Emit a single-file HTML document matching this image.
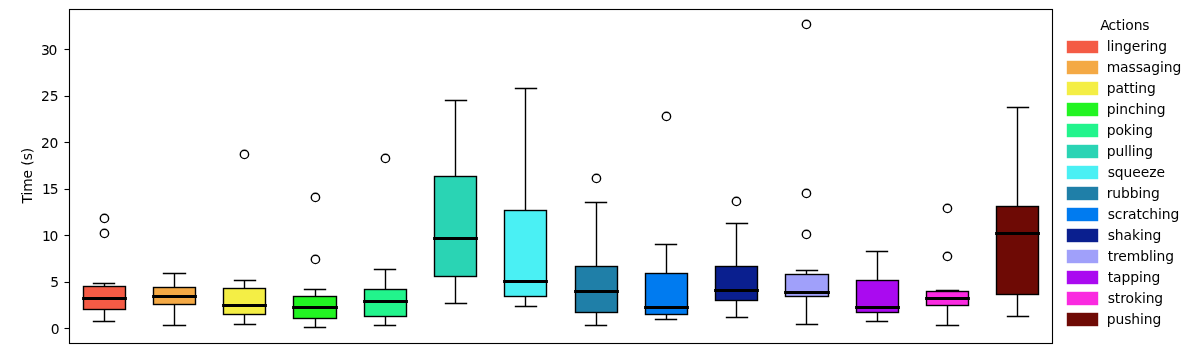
<!DOCTYPE html>
<html><head><meta charset="utf-8"><title>Actions boxplot</title>
<style>html,body{margin:0;padding:0;background:#fff;}svg{display:block;}text{font-family:"DejaVu Sans","Liberation Sans",sans-serif;font-size:13.89px;fill:#000;}.lg text{letter-spacing:-0.08px;}</style></head><body>
<svg width="1200" height="359" viewBox="0 0 1200 359">
<rect width="1200" height="359" fill="#fff"/>
<g stroke="#000" stroke-width="1.39" fill="none" stroke-linecap="square">
<rect x="83.5" y="286.5" width="42.0" height="23.0" fill="#F45B45"/>
<path d="M104.5 286.5V283.5M104.5 309.5V321.5" stroke-linecap="butt"/>
<path d="M93.5 283.5H114.5M93.5 321.5H114.5"/>
<path d="M83.5 298.5H125.5" stroke-width="2.78"/>
<circle cx="104.45" cy="218.42" r="4.17"/>
<circle cx="104.45" cy="233.42" r="4.17"/>
</g>
<g stroke="#000" stroke-width="1.39" fill="none" stroke-linecap="square">
<rect x="153.5" y="287.5" width="42.0" height="17.0" fill="#F4A945"/>
<path d="M174.5 287.5V273.5M174.5 304.5V325.5" stroke-linecap="butt"/>
<path d="M163.5 273.5H185.5M163.5 325.5H185.5"/>
<path d="M153.5 296.5H195.5" stroke-width="2.78"/>
</g>
<g stroke="#000" stroke-width="1.39" fill="none" stroke-linecap="square">
<rect x="223.5" y="288.5" width="42.0" height="26.0" fill="#F4EE45"/>
<path d="M244.5 288.5V280.5M244.5 314.5V324.5" stroke-linecap="butt"/>
<path d="M234.5 280.5H255.5M234.5 324.5H255.5"/>
<path d="M223.5 305.5H265.5" stroke-width="2.78"/>
<circle cx="244.45" cy="154.42" r="4.17"/>
</g>
<g stroke="#000" stroke-width="1.39" fill="none" stroke-linecap="square">
<rect x="293.5" y="296.5" width="43.0" height="22.0" fill="#22F422"/>
<path d="M315.5 296.5V289.5M315.5 318.5V327.5" stroke-linecap="butt"/>
<path d="M304.5 289.5H325.5M304.5 327.5H325.5"/>
<path d="M293.5 307.5H336.5" stroke-width="2.78"/>
<circle cx="315.45" cy="197.42" r="4.17"/>
<circle cx="315.45" cy="259.42" r="4.17"/>
</g>
<g stroke="#000" stroke-width="1.39" fill="none" stroke-linecap="square">
<rect x="364.5" y="289.5" width="42.0" height="27.0" fill="#22F48C"/>
<path d="M385.5 289.5V269.5M385.5 316.5V325.5" stroke-linecap="butt"/>
<path d="M374.5 269.5H395.5M374.5 325.5H395.5"/>
<path d="M364.5 301.5H406.5" stroke-width="2.78"/>
<circle cx="385.45" cy="158.42" r="4.17"/>
</g>
<g stroke="#000" stroke-width="1.39" fill="none" stroke-linecap="square">
<rect x="434.5" y="176.5" width="42.0" height="100.0" fill="#2AD4B4"/>
<path d="M455.5 176.5V100.5M455.5 276.5V303.5" stroke-linecap="butt"/>
<path d="M445.5 100.5H466.5M445.5 303.5H466.5"/>
<path d="M434.5 238.5H476.5" stroke-width="2.78"/>
</g>
<g stroke="#000" stroke-width="1.39" fill="none" stroke-linecap="square">
<rect x="504.5" y="210.5" width="42.0" height="86.0" fill="#4AF0F4"/>
<path d="M525.5 210.5V88.5M525.5 296.5V306.5" stroke-linecap="butt"/>
<path d="M515.5 88.5H536.5M515.5 306.5H536.5"/>
<path d="M504.5 281.5H546.5" stroke-width="2.78"/>
</g>
<g stroke="#000" stroke-width="1.39" fill="none" stroke-linecap="square">
<rect x="575.5" y="266.5" width="42.0" height="46.0" fill="#1F7FA8"/>
<path d="M596.5 266.5V202.5M596.5 312.5V325.5" stroke-linecap="butt"/>
<path d="M585.5 202.5H606.5M585.5 325.5H606.5"/>
<path d="M575.5 291.5H617.5" stroke-width="2.78"/>
<circle cx="596.45" cy="178.42" r="4.17"/>
</g>
<g stroke="#000" stroke-width="1.39" fill="none" stroke-linecap="square">
<rect x="645.5" y="273.5" width="42.0" height="41.0" fill="#007BF0"/>
<path d="M666.5 273.5V244.5M666.5 314.5V319.5" stroke-linecap="butt"/>
<path d="M655.5 244.5H676.5M655.5 319.5H676.5"/>
<path d="M645.5 307.5H687.5" stroke-width="2.78"/>
<circle cx="666.45" cy="116.42" r="4.17"/>
</g>
<g stroke="#000" stroke-width="1.39" fill="none" stroke-linecap="square">
<rect x="715.5" y="266.5" width="42.0" height="34.0" fill="#0A1F8F"/>
<path d="M736.5 266.5V223.5M736.5 300.5V317.5" stroke-linecap="butt"/>
<path d="M726.5 223.5H747.5M726.5 317.5H747.5"/>
<path d="M715.5 290.5H757.5" stroke-width="2.78"/>
<circle cx="736.45" cy="201.42" r="4.17"/>
</g>
<g stroke="#000" stroke-width="1.39" fill="none" stroke-linecap="square">
<rect x="785.5" y="274.5" width="43.0" height="22.0" fill="#A0A0FA"/>
<path d="M806.5 274.5V270.5M806.5 296.5V324.5" stroke-linecap="butt"/>
<path d="M796.5 270.5H817.5M796.5 324.5H817.5"/>
<path d="M785.5 292.5H828.5" stroke-width="2.78"/>
<circle cx="806.45" cy="24.42" r="4.17"/>
<circle cx="806.45" cy="193.42" r="4.17"/>
<circle cx="806.45" cy="234.42" r="4.17"/>
</g>
<g stroke="#000" stroke-width="1.39" fill="none" stroke-linecap="square">
<rect x="856.5" y="280.5" width="42.0" height="32.0" fill="#AA0AF0"/>
<path d="M877.5 280.5V251.5M877.5 312.5V321.5" stroke-linecap="butt"/>
<path d="M866.5 251.5H887.5M866.5 321.5H887.5"/>
<path d="M856.5 307.5H898.5" stroke-width="2.78"/>
</g>
<g stroke="#000" stroke-width="1.39" fill="none" stroke-linecap="square">
<rect x="926.5" y="291.5" width="42.0" height="14.0" fill="#FA2AE0"/>
<path d="M947.5 291.5V290.5M947.5 305.5V325.5" stroke-linecap="butt"/>
<path d="M936.5 290.5H958.5M936.5 325.5H958.5"/>
<path d="M926.5 298.5H968.5" stroke-width="2.78"/>
<circle cx="947.45" cy="208.42" r="4.17"/>
<circle cx="947.45" cy="256.42" r="4.17"/>
</g>
<g stroke="#000" stroke-width="1.39" fill="none" stroke-linecap="square">
<rect x="996.5" y="206.5" width="42.0" height="88.0" fill="#6E0A05"/>
<path d="M1017.5 206.5V107.5M1017.5 294.5V316.5" stroke-linecap="butt"/>
<path d="M1007.5 107.5H1028.5M1007.5 316.5H1028.5"/>
<path d="M996.5 233.5H1038.5" stroke-width="2.78"/>
</g>
<rect x="69.50" y="9.50" width="983.00" height="334.00" fill="none" stroke="#000" stroke-width="1.11"/>
<path d="M69.50 328.50H64.50" stroke="#000" stroke-width="1.11"/>
<text x="50.86" y="333.60">0</text>
<path d="M69.50 282.50H64.50" stroke="#000" stroke-width="1.11"/>
<text x="50.21" y="287.10">5</text>
<path d="M69.50 235.50H64.50" stroke="#000" stroke-width="1.11"/>
<text x="41.97 49.56" y="240.60">10</text>
<path d="M69.50 189.50H64.50" stroke="#000" stroke-width="1.11"/>
<text x="41.97 49.66" y="194.10">15</text>
<path d="M69.50 142.50H64.50" stroke="#000" stroke-width="1.11"/>
<text x="41.07 49.56" y="147.60">20</text>
<path d="M69.50 96.50H64.50" stroke="#000" stroke-width="1.11"/>
<text x="41.07 49.66" y="101.10">25</text>
<path d="M69.50 49.50H64.50" stroke="#000" stroke-width="1.11"/>
<text x="40.97 48.56" y="54.60">30</text>
<text transform="translate(32.30 175.70) rotate(-90)" text-anchor="middle" style="letter-spacing:-0.1px">Time (s)</text>
<g class="lg">
<text x="1100.2" y="30">A<tspan dx="-0.8">ctions</tspan></text>
<rect x="1066.8" y="40.8" width="31.4" height="12.4" fill="#F45B45"/>
<text x="1106.7" y="51.05">lingering</text>
<rect x="1066.8" y="60.8" width="31.4" height="13.4" fill="#F4A945"/>
<text x="1106.7" y="72.03">massaging</text>
<rect x="1066.8" y="81.8" width="31.4" height="13.4" fill="#F4EE45"/>
<text x="1106.7" y="93.01">patting</text>
<rect x="1066.8" y="102.8" width="31.4" height="13.4" fill="#22F422"/>
<text x="1106.7" y="113.99">pinching</text>
<rect x="1066.8" y="123.8" width="31.4" height="13.4" fill="#22F48C"/>
<text x="1106.7" y="134.97">poking</text>
<rect x="1066.8" y="144.8" width="31.4" height="13.4" fill="#2AD4B4"/>
<text x="1106.7" y="155.95">pulling</text>
<rect x="1066.8" y="165.8" width="31.4" height="13.4" fill="#4AF0F4"/>
<text x="1107.7" y="176.93">squeeze</text>
<rect x="1066.8" y="186.8" width="31.4" height="13.4" fill="#1F7FA8"/>
<text x="1106.7" y="197.91">rubbing</text>
<rect x="1066.8" y="207.8" width="31.4" height="13.4" fill="#007BF0"/>
<text x="1107.7" y="218.89">scratching</text>
<rect x="1066.8" y="228.8" width="31.4" height="13.4" fill="#0A1F8F"/>
<text x="1107.7" y="239.87">shaking</text>
<rect x="1066.8" y="249.8" width="31.4" height="13.4" fill="#A0A0FA"/>
<text x="1107.7" y="260.85">trembling</text>
<rect x="1066.8" y="270.8" width="31.4" height="13.4" fill="#AA0AF0"/>
<text x="1107.7" y="281.83">tapping</text>
<rect x="1066.8" y="291.8" width="31.4" height="13.4" fill="#FA2AE0"/>
<text x="1107.7" y="302.81">stroking</text>
<rect x="1066.8" y="312.8" width="31.4" height="13.4" fill="#6E0A05"/>
<text x="1106.7" y="323.79">pushing</text>
</g>
</svg></body></html>
